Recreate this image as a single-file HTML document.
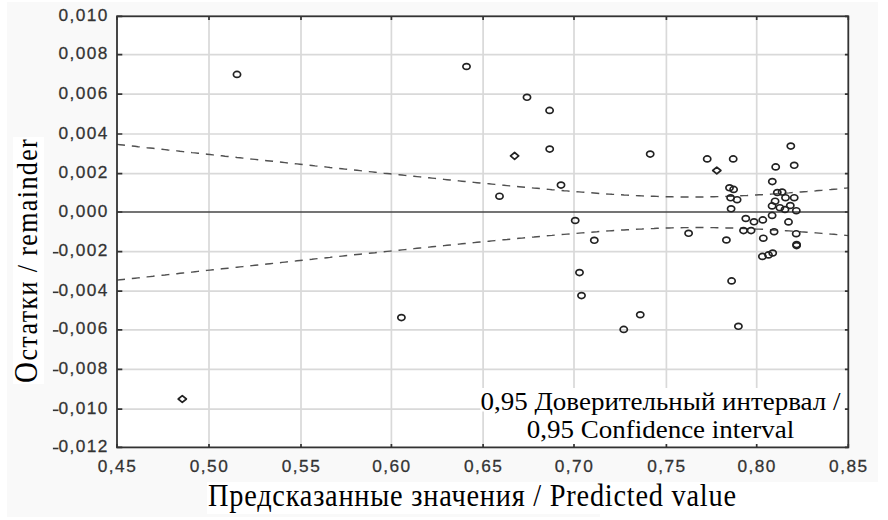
<!DOCTYPE html><html><head><meta charset="utf-8"><style>html,body{margin:0;padding:0;background:#fff;width:888px;height:520px;overflow:hidden}svg{display:block}</style></head><body>
<svg width="888" height="520" viewBox="0 0 888 520">
<rect x="0" y="0" width="888" height="520" fill="#fff"/>
<rect x="7" y="2" width="871" height="480" fill="#f9f9f9"/>
<rect x="7" y="482" width="593" height="35" fill="#f9f9f9"/>
<rect x="117" y="16.3" width="731.30" height="431.10" fill="#fff"/>
<path d="M209.00,16.30V447.40M301.00,16.30V447.40M391.40,16.30V447.40M483.10,16.30V447.40M574.00,16.30V447.40M666.40,16.30V447.40M756.70,16.30V447.40M117.00,54.60H848.30M117.00,94.20H848.30M117.00,134.00H848.30M117.00,173.70H848.30M117.00,251.60H848.30M117.00,291.20H848.30M117.00,329.80H848.30M117.00,369.40H848.30M117.00,409.20H848.30" stroke="#d9d9d9" stroke-width="1.7" fill="none"/>
<rect x="480.5" y="388" width="367" height="23.5" fill="#fff"/><rect x="524" y="411" width="324" height="36" fill="#fff"/>
<path d="M117,212.0H848.3" stroke="#464646" stroke-width="1.7"/>
<path d="M117.0,144.4 L120.0,144.7 L123.0,145.0 L126.0,145.4 L129.0,145.7 L132.0,146.0 L135.0,146.3 L138.0,146.7 L141.0,147.0 L144.0,147.3 L147.0,147.7 L150.0,148.0 L153.0,148.3 L156.0,148.6 L159.0,149.0 L162.0,149.3 L165.0,149.6 L168.0,150.0 L171.0,150.3 L174.0,150.6 L177.0,150.9 L180.0,151.3 L183.0,151.6 L186.0,151.9 L189.0,152.2 L192.0,152.6 L195.0,152.9 L198.0,153.2 L201.0,153.5 L204.0,153.9 L207.0,154.2 L210.0,154.5 L213.0,154.9 L216.0,155.2 L219.0,155.5 L222.0,155.8 L225.0,156.2 L228.0,156.5 L231.0,156.8 L234.0,157.1 L237.0,157.5 L240.0,157.8 L243.0,158.1 L246.0,158.4 L249.0,158.8 L252.0,159.1 L255.0,159.4 L258.0,159.7 L261.0,160.1 L264.0,160.4 L267.0,160.7 L270.0,161.0 L273.0,161.3 L276.0,161.7 L279.0,162.0 L282.0,162.3 L285.0,162.6 L288.0,163.0 L291.0,163.3 L294.0,163.6 L297.0,163.9 L300.0,164.2 L303.0,164.6 L306.0,164.9 L309.0,165.2 L312.0,165.5 L315.0,165.9 L318.0,166.2 L321.0,166.5 L324.0,166.8 L327.0,167.1 L330.0,167.5 L333.0,167.8 L336.0,168.1 L339.0,168.4 L342.0,168.7 L345.0,169.1 L348.0,169.4 L351.0,169.7 L354.0,170.0 L357.0,170.3 L360.0,170.6 L363.0,171.0 L366.0,171.3 L369.0,171.6 L372.0,171.9 L375.0,172.2 L378.0,172.5 L381.0,172.8 L384.0,173.2 L387.0,173.5 L390.0,173.8 L393.0,174.1 L396.0,174.4 L399.0,174.7 L402.0,175.0 L405.0,175.4 L408.0,175.7 L411.0,176.0 L414.0,176.3 L417.0,176.6 L420.0,176.9 L423.0,177.2 L426.0,177.5 L429.0,177.8 L432.0,178.1 L435.0,178.4 L438.0,178.7 L441.0,179.1 L444.0,179.4 L447.0,179.7 L450.0,180.0 L453.0,180.3 L456.0,180.6 L459.0,180.9 L462.0,181.2 L465.0,181.5 L468.0,181.8 L471.0,182.1 L474.0,182.4 L477.0,182.7 L480.0,183.0 L483.0,183.3 L486.0,183.5 L489.0,183.8 L492.0,184.1 L495.0,184.4 L498.0,184.7 L501.0,185.0 L504.0,185.3 L507.0,185.6 L510.0,185.9 L513.0,186.1 L516.0,186.4 L519.0,186.7 L522.0,187.0 L525.0,187.3 L528.0,187.5 L531.0,187.8 L534.0,188.1 L537.0,188.3 L540.0,188.6 L543.0,188.9 L546.0,189.1 L549.0,189.4 L552.0,189.7 L555.0,189.9 L558.0,190.2 L561.0,190.4 L564.0,190.7 L567.0,190.9 L570.0,191.2 L573.0,191.4 L576.0,191.7 L579.0,191.9 L582.0,192.1 L585.0,192.4 L588.0,192.6 L591.0,192.8 L594.0,193.0 L597.0,193.2 L600.0,193.5 L603.0,193.7 L606.0,193.9 L609.0,194.1 L612.0,194.3 L615.0,194.4 L618.0,194.6 L621.0,194.8 L624.0,195.0 L627.0,195.1 L630.0,195.3 L633.0,195.5 L636.0,195.6 L639.0,195.7 L642.0,195.9 L645.0,196.0 L648.0,196.1 L651.0,196.2 L654.0,196.3 L657.0,196.4 L660.0,196.5 L663.0,196.6 L666.0,196.7 L669.0,196.8 L672.0,196.8 L675.0,196.9 L678.0,196.9 L681.0,196.9 L684.0,197.0 L687.0,197.0 L690.0,197.0 L693.0,197.0 L696.0,197.0 L699.0,196.9 L702.0,196.9 L705.0,196.9 L708.0,196.8 L711.0,196.8 L714.0,196.7 L717.0,196.6 L720.0,196.6 L723.0,196.5 L726.0,196.4 L729.0,196.3 L732.0,196.2 L735.0,196.0 L738.0,195.9 L741.0,195.8 L744.0,195.6 L747.0,195.5 L750.0,195.3 L753.0,195.2 L756.0,195.0 L759.0,194.8 L762.0,194.7 L765.0,194.5 L768.0,194.3 L771.0,194.1 L774.0,193.9 L777.0,193.7 L780.0,193.5 L783.0,193.3 L786.0,193.1 L789.0,192.9 L792.0,192.6 L795.0,192.4 L798.0,192.2 L801.0,192.0 L804.0,191.7 L807.0,191.5 L810.0,191.2 L813.0,191.0 L816.0,190.8 L819.0,190.5 L822.0,190.3 L825.0,190.0 L828.0,189.7 L831.0,189.5 L834.0,189.2 L837.0,189.0 L840.0,188.7 L843.0,188.4 L846.0,188.1 L848.3,187.9" stroke="#505050" stroke-width="1.45" fill="none" stroke-dasharray="8 6.9"/>
<path d="M117.0,280.1 L120.0,279.8 L123.0,279.5 L126.0,279.2 L129.0,278.8 L132.0,278.5 L135.0,278.2 L138.0,277.9 L141.0,277.6 L144.0,277.2 L147.0,276.9 L150.0,276.6 L153.0,276.3 L156.0,275.9 L159.0,275.6 L162.0,275.3 L165.0,275.0 L168.0,274.6 L171.0,274.3 L174.0,274.0 L177.0,273.7 L180.0,273.3 L183.0,273.0 L186.0,272.7 L189.0,272.4 L192.0,272.1 L195.0,271.7 L198.0,271.4 L201.0,271.1 L204.0,270.8 L207.0,270.4 L210.0,270.1 L213.0,269.8 L216.0,269.5 L219.0,269.2 L222.0,268.8 L225.0,268.5 L228.0,268.2 L231.0,267.9 L234.0,267.6 L237.0,267.2 L240.0,266.9 L243.0,266.6 L246.0,266.3 L249.0,266.0 L252.0,265.6 L255.0,265.3 L258.0,265.0 L261.0,264.7 L264.0,264.4 L267.0,264.0 L270.0,263.7 L273.0,263.4 L276.0,263.1 L279.0,262.8 L282.0,262.4 L285.0,262.1 L288.0,261.8 L291.0,261.5 L294.0,261.2 L297.0,260.8 L300.0,260.5 L303.0,260.2 L306.0,259.9 L309.0,259.6 L312.0,259.3 L315.0,258.9 L318.0,258.6 L321.0,258.3 L324.0,258.0 L327.0,257.7 L330.0,257.4 L333.0,257.0 L336.0,256.7 L339.0,256.4 L342.0,256.1 L345.0,255.8 L348.0,255.5 L351.0,255.2 L354.0,254.8 L357.0,254.5 L360.0,254.2 L363.0,253.9 L366.0,253.6 L369.0,253.3 L372.0,253.0 L375.0,252.7 L378.0,252.3 L381.0,252.0 L384.0,251.7 L387.0,251.4 L390.0,251.1 L393.0,250.8 L396.0,250.5 L399.0,250.2 L402.0,249.9 L405.0,249.6 L408.0,249.3 L411.0,249.0 L414.0,248.6 L417.0,248.3 L420.0,248.0 L423.0,247.7 L426.0,247.4 L429.0,247.1 L432.0,246.8 L435.0,246.5 L438.0,246.2 L441.0,245.9 L444.0,245.6 L447.0,245.3 L450.0,245.0 L453.0,244.7 L456.0,244.4 L459.0,244.1 L462.0,243.8 L465.0,243.5 L468.0,243.2 L471.0,242.9 L474.0,242.6 L477.0,242.3 L480.0,242.0 L483.0,241.8 L486.0,241.5 L489.0,241.2 L492.0,240.9 L495.0,240.6 L498.0,240.3 L501.0,240.0 L504.0,239.7 L507.0,239.5 L510.0,239.2 L513.0,238.9 L516.0,238.6 L519.0,238.3 L522.0,238.1 L525.0,237.8 L528.0,237.5 L531.0,237.2 L534.0,237.0 L537.0,236.7 L540.0,236.4 L543.0,236.2 L546.0,235.9 L549.0,235.6 L552.0,235.4 L555.0,235.1 L558.0,234.9 L561.0,234.6 L564.0,234.4 L567.0,234.1 L570.0,233.9 L573.0,233.6 L576.0,233.4 L579.0,233.1 L582.0,232.9 L585.0,232.7 L588.0,232.4 L591.0,232.2 L594.0,232.0 L597.0,231.8 L600.0,231.5 L603.0,231.3 L606.0,231.1 L609.0,230.9 L612.0,230.7 L615.0,230.5 L618.0,230.3 L621.0,230.1 L624.0,230.0 L627.0,229.8 L630.0,229.6 L633.0,229.5 L636.0,229.3 L639.0,229.1 L642.0,229.0 L645.0,228.8 L648.0,228.7 L651.0,228.6 L654.0,228.5 L657.0,228.3 L660.0,228.2 L663.0,228.1 L666.0,228.0 L669.0,228.0 L672.0,227.9 L675.0,227.8 L678.0,227.7 L681.0,227.7 L684.0,227.6 L687.0,227.6 L690.0,227.6 L693.0,227.5 L696.0,227.5 L699.0,227.5 L702.0,227.5 L705.0,227.5 L708.0,227.6 L711.0,227.6 L714.0,227.6 L717.0,227.7 L720.0,227.7 L723.0,227.8 L726.0,227.9 L729.0,227.9 L732.0,228.0 L735.0,228.1 L738.0,228.2 L741.0,228.3 L744.0,228.5 L747.0,228.6 L750.0,228.7 L753.0,228.8 L756.0,229.0 L759.0,229.1 L762.0,229.3 L765.0,229.4 L768.0,229.6 L771.0,229.8 L774.0,230.0 L777.0,230.1 L780.0,230.3 L783.0,230.5 L786.0,230.7 L789.0,230.9 L792.0,231.1 L795.0,231.3 L798.0,231.5 L801.0,231.8 L804.0,232.0 L807.0,232.2 L810.0,232.4 L813.0,232.7 L816.0,232.9 L819.0,233.1 L822.0,233.4 L825.0,233.6 L828.0,233.8 L831.0,234.1 L834.0,234.3 L837.0,234.6 L840.0,234.9 L843.0,235.1 L846.0,235.4 L848.3,235.6" stroke="#505050" stroke-width="1.45" fill="none" stroke-dasharray="8 6.9"/>
<path d="M117.00,16.30h5.3M848.30,16.30h-3.4M117.00,54.60h5.3M848.30,54.60h-3.4M117.00,94.20h5.3M848.30,94.20h-3.4M117.00,134.00h5.3M848.30,134.00h-3.4M117.00,173.70h5.3M848.30,173.70h-3.4M117.00,212.00h5.3M848.30,212.00h-3.4M117.00,251.60h5.3M848.30,251.60h-3.4M117.00,291.20h5.3M848.30,291.20h-3.4M117.00,329.80h5.3M848.30,329.80h-3.4M117.00,369.40h5.3M848.30,369.40h-3.4M117.00,409.20h5.3M848.30,409.20h-3.4M117.00,447.40h5.3M848.30,447.40h-3.4M117.00,16.30v3.6M117.00,447.40v-3.4M209.00,16.30v3.6M209.00,447.40v-3.4M301.00,16.30v3.6M301.00,447.40v-3.4M391.40,16.30v3.6M391.40,447.40v-3.4M483.10,16.30v3.6M483.10,447.40v-3.4M574.00,16.30v3.6M574.00,447.40v-3.4M666.40,16.30v3.6M666.40,447.40v-3.4M756.70,16.30v3.6M756.70,447.40v-3.4M848.30,16.30v3.6M848.30,447.40v-3.4" stroke="#333" stroke-width="1.7" fill="none"/>
<rect x="117" y="16.3" width="731.30" height="431.10" fill="none" stroke="#333" stroke-width="1.8"/>
<g fill="none" stroke="#222" stroke-width="1.7"><ellipse cx="237" cy="74.4" rx="3.6" ry="2.95"/><path d="M178.2,399.0L182.3,395.6L186.4,399.0L182.3,402.4Z" stroke-linejoin="round"/><ellipse cx="401.4" cy="317.6" rx="3.6" ry="2.95"/><ellipse cx="466.5" cy="66.5" rx="3.6" ry="2.95"/><ellipse cx="527" cy="97.3" rx="3.6" ry="2.95"/><ellipse cx="549.6" cy="110.4" rx="3.6" ry="2.95"/><path d="M510.5,155.9L514.6,152.5L518.7,155.9L514.6,159.3Z" stroke-linejoin="round"/><ellipse cx="549.7" cy="149.1" rx="3.6" ry="2.95"/><ellipse cx="561" cy="185.1" rx="3.6" ry="2.95"/><ellipse cx="499.5" cy="196.2" rx="3.6" ry="2.95"/><ellipse cx="575.2" cy="220.5" rx="3.6" ry="2.95"/><ellipse cx="594.3" cy="240.3" rx="3.6" ry="2.95"/><ellipse cx="579.5" cy="272.6" rx="3.6" ry="2.95"/><ellipse cx="581.5" cy="295.6" rx="3.6" ry="2.95"/><ellipse cx="640.25" cy="314.75" rx="3.6" ry="2.95"/><ellipse cx="623.75" cy="329.4" rx="3.6" ry="2.95"/><ellipse cx="650.2" cy="154.1" rx="3.6" ry="2.95"/><ellipse cx="688.6" cy="233.3" rx="3.6" ry="2.95"/><ellipse cx="707.2" cy="158.9" rx="3.6" ry="2.95"/><ellipse cx="733.2" cy="158.9" rx="3.6" ry="2.95"/><path d="M712.7,170.5L716.8,167.1L720.9,170.5L716.8,173.9Z" stroke-linejoin="round"/><ellipse cx="729.5" cy="187.8" rx="3.6" ry="2.95"/><ellipse cx="733.6" cy="189.4" rx="3.6" ry="2.95"/><ellipse cx="730.6" cy="197.8" rx="3.6" ry="2.95"/><ellipse cx="737.1" cy="199.7" rx="3.6" ry="2.95"/><ellipse cx="731.1" cy="208.8" rx="3.6" ry="2.95"/><ellipse cx="745.8" cy="218.5" rx="3.6" ry="2.95"/><ellipse cx="754" cy="221.8" rx="3.6" ry="2.95"/><ellipse cx="762.8" cy="219.9" rx="3.6" ry="2.95"/><ellipse cx="790.8" cy="146.1" rx="3.6" ry="2.95"/><ellipse cx="775.7" cy="166.9" rx="3.6" ry="2.95"/><ellipse cx="794.2" cy="165.3" rx="3.6" ry="2.95"/><ellipse cx="772.3" cy="181.6" rx="3.6" ry="2.95"/><ellipse cx="777.3" cy="192.5" rx="3.6" ry="2.95"/><ellipse cx="782.1" cy="192.1" rx="3.6" ry="2.95"/><ellipse cx="785.5" cy="197.7" rx="3.6" ry="2.95"/><ellipse cx="794.2" cy="197.7" rx="3.6" ry="2.95"/><ellipse cx="775.1" cy="201.2" rx="3.6" ry="2.95"/><ellipse cx="772.1" cy="205.9" rx="3.6" ry="2.95"/><ellipse cx="779.9" cy="207.7" rx="3.6" ry="2.95"/><ellipse cx="790.3" cy="205.5" rx="3.6" ry="2.95"/><ellipse cx="796.3" cy="210.7" rx="3.6" ry="2.95"/><ellipse cx="785" cy="209.5" rx="3.6" ry="2.95"/><ellipse cx="772.1" cy="215.4" rx="3.6" ry="2.95"/><ellipse cx="788.5" cy="221.9" rx="3.6" ry="2.95"/><ellipse cx="743.5" cy="230.6" rx="3.6" ry="2.95"/><ellipse cx="751.1" cy="230.6" rx="3.6" ry="2.95"/><ellipse cx="774.1" cy="231.7" rx="3.6" ry="2.95"/><ellipse cx="796.2" cy="233.7" rx="3.6" ry="2.95"/><ellipse cx="763.3" cy="238.2" rx="3.6" ry="2.95"/><ellipse cx="726.4" cy="240" rx="3.6" ry="2.95"/><ellipse cx="796.6" cy="245.6" rx="3.6" ry="2.95"/><ellipse cx="796.6" cy="244.6" rx="3.6" ry="2.95"/><ellipse cx="762.4" cy="256.4" rx="3.6" ry="2.95"/><ellipse cx="768.5" cy="254.9" rx="3.6" ry="2.95"/><ellipse cx="772.7" cy="253" rx="3.6" ry="2.95"/><ellipse cx="731.6" cy="280.9" rx="3.6" ry="2.95"/><ellipse cx="738.4" cy="326.3" rx="3.6" ry="2.95"/></g>
<g font-family="Liberation Sans, sans-serif" font-size="16" fill="#333" stroke="#333" stroke-width="0.25" letter-spacing="1.35"><text transform="translate(108.90,20.80) scale(1.08,1)" text-anchor="end">0,010</text><text transform="translate(108.90,59.10) scale(1.08,1)" text-anchor="end">0,008</text><text transform="translate(108.90,98.70) scale(1.08,1)" text-anchor="end">0,006</text><text transform="translate(108.90,138.50) scale(1.08,1)" text-anchor="end">0,004</text><text transform="translate(108.90,178.20) scale(1.08,1)" text-anchor="end">0,002</text><text transform="translate(108.90,216.50) scale(1.08,1)" text-anchor="end">0,000</text><text transform="translate(108.90,256.10) scale(1.08,1)" text-anchor="end">0,002</text><text transform="translate(108.90,295.70) scale(1.08,1)" text-anchor="end">0,004</text><text transform="translate(108.90,334.30) scale(1.08,1)" text-anchor="end">0,006</text><text transform="translate(108.90,373.90) scale(1.08,1)" text-anchor="end">0,008</text><text transform="translate(108.90,413.70) scale(1.08,1)" text-anchor="end">0,010</text><text transform="translate(108.90,451.90) scale(1.08,1)" text-anchor="end">0,012</text></g>
<g fill="#333"><rect x="52.9" y="251.9" width="5.6" height="1.6"/><rect x="52.9" y="291.5" width="5.6" height="1.6"/><rect x="52.9" y="330.1" width="5.6" height="1.6"/><rect x="52.9" y="369.7" width="5.6" height="1.6"/><rect x="52.9" y="409.5" width="5.6" height="1.6"/><rect x="52.9" y="447.7" width="5.6" height="1.6"/></g>
<g font-family="Liberation Sans, sans-serif" font-size="16" fill="#333" stroke="#333" stroke-width="0.25" letter-spacing="1.35"><text transform="translate(117.50,472) scale(1.08,1)" text-anchor="middle">0,45</text><text transform="translate(209.50,472) scale(1.08,1)" text-anchor="middle">0,50</text><text transform="translate(301.50,472) scale(1.08,1)" text-anchor="middle">0,55</text><text transform="translate(391.90,472) scale(1.08,1)" text-anchor="middle">0,60</text><text transform="translate(483.60,472) scale(1.08,1)" text-anchor="middle">0,65</text><text transform="translate(574.50,472) scale(1.08,1)" text-anchor="middle">0,70</text><text transform="translate(666.90,472) scale(1.08,1)" text-anchor="middle">0,75</text><text transform="translate(757.20,472) scale(1.08,1)" text-anchor="middle">0,80</text><text transform="translate(848.80,472) scale(1.08,1)" text-anchor="middle">0,85</text></g>
<g font-family="Liberation Serif, serif" font-size="25" fill="#000" text-anchor="middle" transform="translate(660.5,0) scale(1.08,1)">
<text x="0" y="410">0,95 Доверительный интервал /</text>
<text x="0" y="437.8">0,95 Confidence interval</text>
</g>
<rect x="207" y="482" width="533" height="32" fill="#fff"/>
<text transform="translate(208,505.5) scale(0.9,1)" font-family="Liberation Serif, serif" font-size="31.5" fill="#000" textLength="586.7" lengthAdjust="spacing">Предсказанные значения / Predicted value</text>
<rect x="13" y="137" width="31" height="247" fill="#fff"/>
<text transform="translate(37.2,383) rotate(-90) scale(0.88,1)" font-family="Liberation Serif, serif" font-size="29.5" fill="#000" textLength="277" lengthAdjust="spacing"><tspan font-size="33">О</tspan>статки / remainder</text>
</svg></body></html>
